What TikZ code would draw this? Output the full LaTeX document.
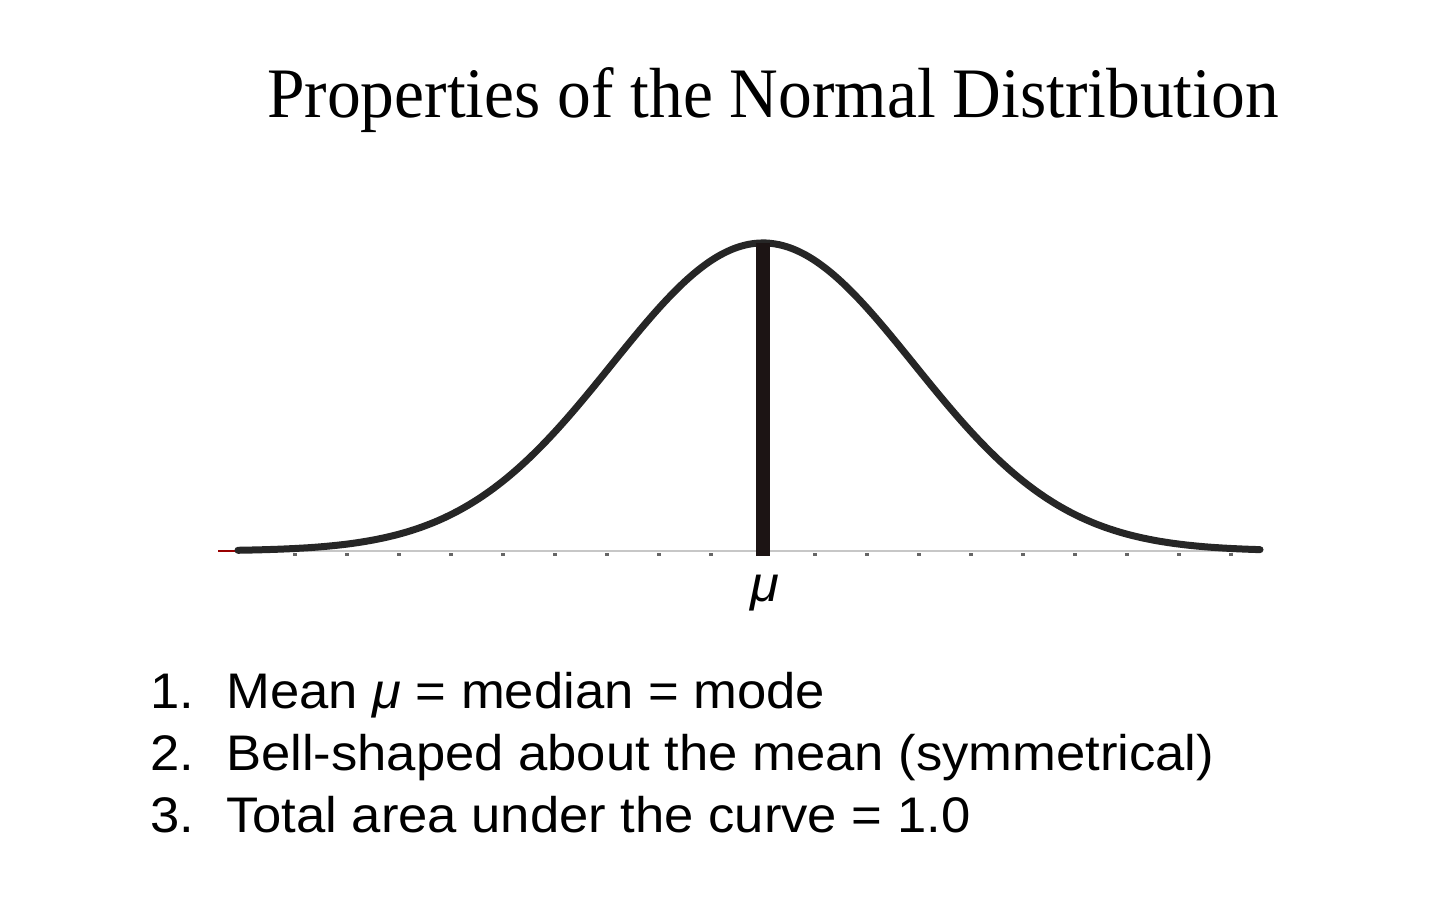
\documentclass[tikz,border=0pt]{standalone}
\usepackage{fontspec}
\setmainfont{Liberation Serif}
\newfontfamily\arialf[FakeStretch=1.052]{Liberation Sans}
\newfontfamily\titlef[FakeStretch=0.95]{Liberation Serif}
\definecolor{meancol}{RGB}{28,20,20}
\definecolor{bellcol}{RGB}{38,38,38}
\tikzset{
  titletext/.style={font=\titlef\fontsize{71}{80}\selectfont, inner sep=0pt, anchor=base},
  itemtext/.style={font=\arialf\fontsize{50}{60}\selectfont, inner sep=0pt, anchor=base west},
  bell/.style={line width=7pt, color=bellcol, line cap=round},
  meanline/.style={line width=14pt, color=meancol},
  axisline/.style={line width=2pt, color=black!22},
  tickmark/.style={fill=black!60, draw=none},
  redend/.style={line width=2.5pt, color=red!60!black},
}
\begin{document}
\begin{tikzpicture}[x=1pt,y=-1pt]
\useasboundingbox (0,0) rectangle (1440,907);
% title
\node[titletext] (title) at (773,117) {Properties of the Normal Distribution};
% axis
\coordinate (axL) at (220,551);
\coordinate (axR) at (1262,551);
\draw[axisline] (axL) -- (axR);
\foreach \k in {-9,...,-1,1,2,...,9}{
  \fill[tickmark] ({763+52*\k-2},553) rectangle ({763+52*\k+2},555.5);
}
\draw[redend] (218,551) -- (238,551);
\draw[redend] (1256,549) -- (1262,549);
% bell curve
\draw[bell] plot[domain=238:1260, samples=241, smooth] (\x,{551-308*exp(-((\x-763)/151)^2/2)});
% mean line
\coordinate (top) at (763,243);
\coordinate (bot) at (763,556);
\draw[meanline] (top) -- (bot);
\node[font=\arialf\itshape\fontsize{50}{56}\selectfont, inner sep=0pt, anchor=base] (mu) at (765,601) {μ};
% list
\node[itemtext] (n1) at (150,708) {1.};
\node[itemtext] (t1) at (226,708) {Mean {\itshape μ} = median = mode};
\node[itemtext] (n2) at (150,770) {2.};
\node[itemtext] (t2) at (226,770) {Bell-shaped about the mean (symmetrical)};
\node[itemtext] (n3) at (150,832) {3.};
\node[itemtext] (t3) at (226,832) {Total area under the curve = 1.0};
\end{tikzpicture}
\end{document}
